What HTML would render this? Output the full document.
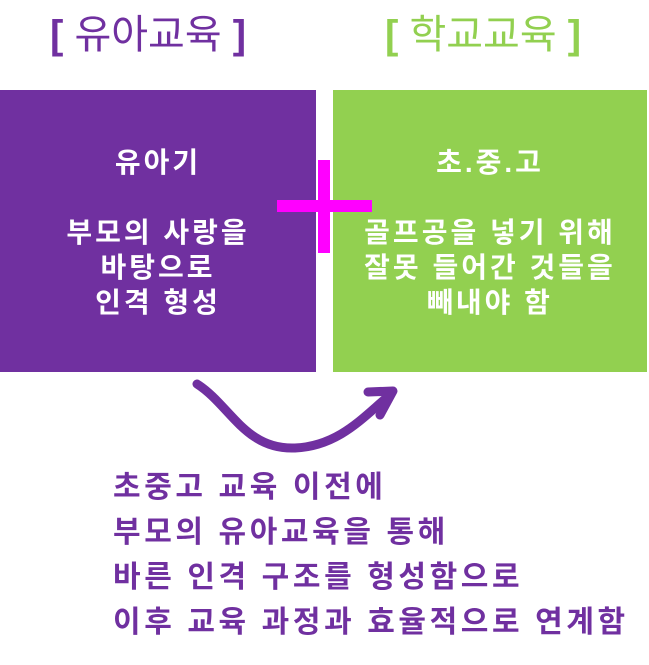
<!DOCTYPE html>
<html><head><meta charset="utf-8"><style>
body{margin:0;width:649px;height:665px;background:#fff;position:relative;overflow:hidden;font-family:"Liberation Sans","Noto Sans CJK KR","NanumGothic",sans-serif}
.t{position:absolute;font-size:40px;top:10px;white-space:nowrap;line-height:50px}
.box{position:absolute;top:90px;height:282px;color:#fff;font-weight:bold;font-size:28px;letter-spacing:3px;text-align:center;line-height:35px}
.bt{position:absolute;left:113px;top:465px;color:#7030a0;font-weight:bold;font-size:30px;line-height:45px;letter-spacing:3.6px;white-space:nowrap}
</style></head><body>
<div class="t" style="left:50px;color:#7030a0"><b>[</b> 유아교육 <b>]</b></div>
<div class="t" style="left:385px;color:#92d050"><b>[</b> 학교교육 <b>]</b></div>
<div class="box" style="left:0;width:316px;background:#7030a0"><div style="padding-top:55px">유아기</div><div style="margin-top:35px">부모의 사랑을<br>바탕으로<br>인격 형성</div></div>
<div class="box" style="left:333px;width:314px;background:#92d050"><div style="padding-top:55px">초.중.고</div><div style="margin-top:35px">골프공을 넣기 위해<br>잘못 들어간 것들을<br>빼내야 함</div></div>
<div style="position:absolute;left:318px;top:160px;width:12px;height:93px;background:#ff00ff"></div>
<div style="position:absolute;left:277px;top:200px;width:95px;height:12px;background:#ff00ff"></div>
<svg style="position:absolute;left:0;top:0" width="649" height="665">
<path d="M197,384 C230,405 245,450 295,448 C340,446 365,415 390,395" fill="none" stroke="#7030a0" stroke-width="9" stroke-linecap="round"/>
<path d="M368,392 L393,391 L380,415" fill="none" stroke="#7030a0" stroke-width="9" stroke-linecap="round" stroke-linejoin="round"/>
</svg>
<div class="bt">초중고 교육 이전에<br>부모의 유아교육을 통해<br>바른 인격 구조를 형성함으로<br>이후 교육 과정과 효율적으로 연계함</div>
</body></html>
